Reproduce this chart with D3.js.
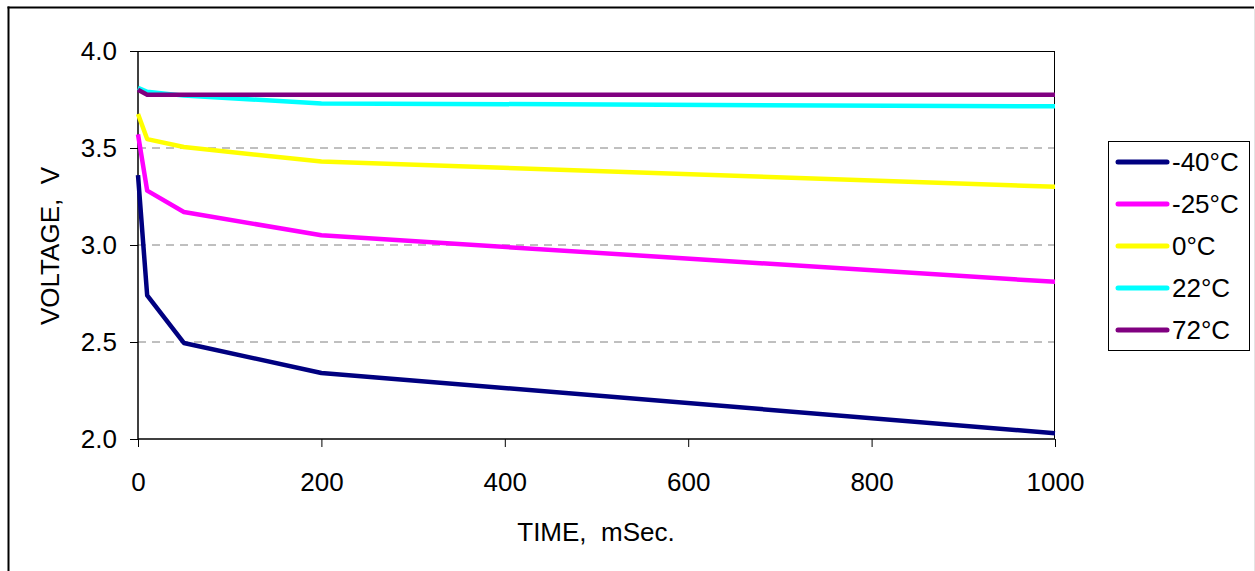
<!DOCTYPE html>
<html>
<head>
<meta charset="utf-8">
<script src="https://cdn.jsdelivr.net/npm/d3@7"></script>
<style>
  body { margin: 0; background: #fff; }
  svg { display: block; font-family: "Liberation Sans", Arial, sans-serif; }
</style>
</head>
<body>
<script>
// data
const times = [0, 10, 50, 200, 1000];
const seriesNames = ["-40°C", "-25°C", "0°C", "22°C", "72°C"];
const seriesColors = ["#000080", "#ff00ff", "#ffff00", "#00ffff", "#800080"];
const vMinus40 = [3.36, 2.74, 2.495, 2.34, 2.03];
const vMinus25 = [3.57, 3.28, 3.17, 3.05, 2.81];
const v0 = [3.675, 3.546, 3.505, 3.43, 3.30];
const v22 = [3.81, 3.79, 3.77, 3.73, 3.715];
const v72 = [3.80, 3.775, 3.775, 3.775, 3.775];
const xTicks = [0, 200, 400, 600, 800, 1000];
const yTicks = [2.0, 2.5, 3.0, 3.5, 4.0];

const allValues = [vMinus40, vMinus25, v0, v22, v72];

const W = 1255, H = 571;
const margin = { top: 51, right: 200, bottom: 132, left: 138 };
const width = 1055 - margin.left;
const height = 439 - margin.top;

const svg = d3.select("body").append("svg")
  .attr("width", W)
  .attr("height", H);

// outer chart frame
svg.append("line").attr("x1", 8.5).attr("x2", 8.5).attr("y1", 6.5).attr("y2", H)
  .attr("stroke", "#000").attr("stroke-width", 2);
svg.append("line").attr("x1", 7.5).attr("x2", 1254).attr("y1", 7.5).attr("y2", 7.5)
  .attr("stroke", "#000").attr("stroke-width", 2);
svg.append("line").attr("x1", 1254.5).attr("x2", 1254.5).attr("y1", 9).attr("y2", H)
  .attr("stroke", "#e4e4e4").attr("stroke-width", 1);

const g = svg.append("g")
  .attr("transform", "translate(" + margin.left + "," + margin.top + ")");

const x = d3.scaleLinear().domain([0, 1000]).range([0, width]);
const y = d3.scaleLinear().domain([2, 4]).range([height, 0]);

// dashed gridlines
g.selectAll(".grid")
  .data(yTicks.filter(d => d > 2 && d < 4))
  .enter().append("line")
  .attr("x1", 0).attr("x2", width)
  .attr("y1", d => y(d)).attr("y2", d => y(d))
  .attr("stroke", "#808080")
  .attr("stroke-dasharray", "8,6");

// plot area border (top and right)
g.append("line").attr("x1", 0).attr("x2", width).attr("y1", 0.5).attr("y2", 0.5)
  .attr("stroke", "#000");
g.append("line").attr("x1", width - 0.5).attr("x2", width - 0.5).attr("y1", 0).attr("y2", height)
  .attr("stroke", "#000");

// axes
const yAxis = g.append("g")
  .call(d3.axisLeft(y).tickValues(yTicks).tickFormat(d3.format(".1f")).tickSize(8).tickPadding(13));
const xAxis = g.append("g")
  .attr("transform", "translate(0," + height + ")")
  .call(d3.axisBottom(x).tickValues(xTicks).tickFormat(d3.format("d")).tickSize(8).tickPadding(26));

[yAxis, xAxis].forEach(a => {
  a.select(".domain").attr("stroke", "#000").attr("stroke-width", 1.5);
  a.selectAll(".tick line").attr("stroke", "#000");
  a.selectAll("text").attr("font-size", "26px").attr("fill", "#000")
    .attr("font-family", "'Liberation Sans', Arial, sans-serif");
});
yAxis.select(".domain").attr("d", "M0,0V" + height);
xAxis.select(".domain").attr("d", "M0,0H" + width);

// series lines
const line = d3.line()
  .x((d, i) => x(times[i]))
  .y(d => y(d));

g.selectAll(".series")
  .data(allValues)
  .enter().append("path")
  .attr("fill", "none")
  .attr("stroke", (d, i) => seriesColors[i])
  .attr("stroke-width", 4.5)
  .attr("stroke-linejoin", "round")
  .attr("d", line);

// axis titles
svg.append("text")
  .attr("x", 596).attr("y", 541)
  .attr("text-anchor", "middle")
  .attr("font-size", "26px")
  .attr("xml:space", "preserve")
  .text("TIME,  mSec.");

svg.append("text")
  .attr("transform", "translate(59,246) rotate(-90)")
  .attr("text-anchor", "middle")
  .attr("font-size", "26px")
  .attr("xml:space", "preserve")
  .text("VOLTAGE,  V");

// legend
const legend = svg.append("g").attr("transform", "translate(1108,141)");
legend.append("rect")
  .attr("x", 0.5).attr("y", 0.5)
  .attr("width", 141).attr("height", 209)
  .attr("fill", "#fff").attr("stroke", "#000");

const rows = legend.selectAll(".row")
  .data(seriesNames)
  .enter().append("g")
  .attr("transform", (d, i) => "translate(0," + (21 + i * 42) + ")");
rows.append("line")
  .attr("x1", 10).attr("x2", 59)
  .attr("stroke", (d, i) => seriesColors[i])
  .attr("stroke-width", 5)
  .attr("stroke-linecap", "round");
rows.append("text")
  .attr("x", 64).attr("dy", "0.36em")
  .attr("font-size", "26px")
  .text(d => d);
</script>
</body>
</html>
